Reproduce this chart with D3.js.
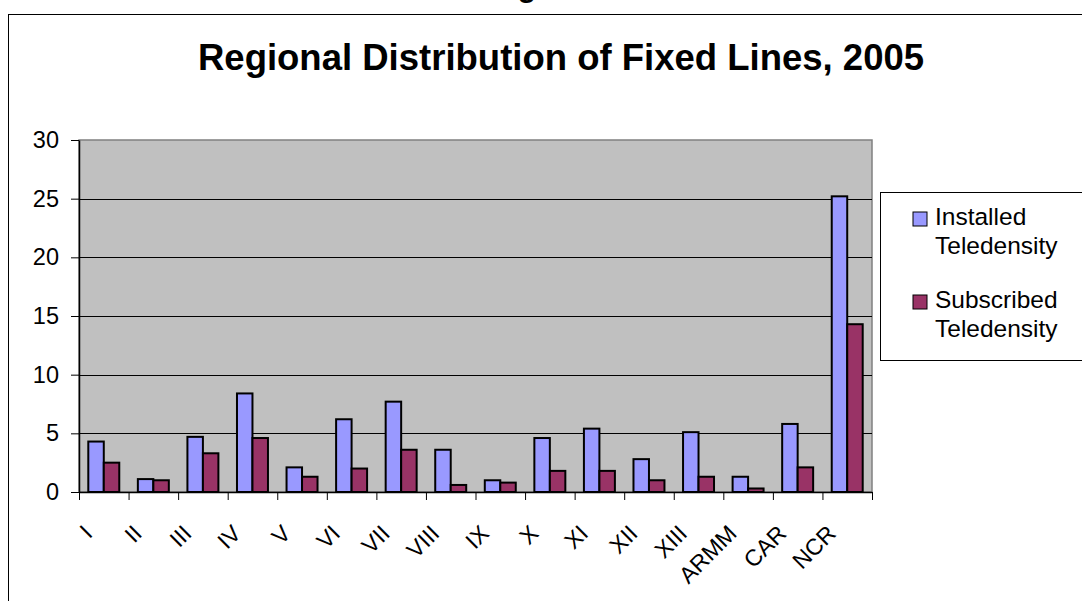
<!DOCTYPE html>
<html>
<head>
<meta charset="utf-8">
<script src="https://cdn.jsdelivr.net/npm/d3@7"></script>
<style>
  body { margin: 0; background: #fff; }
  text { font-family: "Liberation Sans", Arial, sans-serif; }
</style>
</head>
<body>
<svg id="chart" width="1082" height="601"></svg>
<script>
// regions + the two teledensity series
const regions = ["I", "II", "III", "IV", "V", "VI", "VII", "VIII", "IX", "X", "XI", "XII", "XIII", "ARMM", "CAR", "NCR"];
const installed = [4.3, 1.1, 4.7, 8.4, 2.1, 6.2, 7.7, 3.6, 1.0, 4.6, 5.4, 2.8, 5.1, 1.3, 5.8, 25.2];
const subscribed = [2.5, 1.0, 3.3, 4.6, 1.3, 2.0, 3.6, 0.6, 0.8, 1.8, 1.8, 1.0, 1.3, 0.3, 2.1, 14.3];
const seriesNames = ["Installed Teledensity", "Subscribed Teledensity"];
const seriesColors = ["#9999FF", "#993366"];
const yTicks = [0, 5, 10, 15, 20, 25, 30];

const svg = d3.select("#chart");
const plot = { left: 79, top: 140, right: 872, bottom: 492 };

// chart area border (runs off the right / bottom edges like the original)
svg.append("rect")
   .attr("x", 8.5).attr("y", 14.5)
   .attr("width", 1200).attr("height", 700)
   .style("fill", "none").style("stroke", "black").style("stroke-width", 1);

// clipped heading from above the chart, only its descender shows
svg.append("text")
   .attr("x", 527).attr("y", -3)
   .attr("text-anchor", "middle")
   .style("font-weight", "bold").style("font-size", "30px")
   .text("g");

svg.append("text")
   .attr("x", 561).attr("y", 70)
   .attr("text-anchor", "middle")
   .style("font-weight", "bold").style("font-size", "36.5px")
   .text("Regional Distribution of Fixed Lines, 2005");

const y = d3.scaleLinear().domain([0, 30]).range([plot.bottom, plot.top]);
const x0 = d3.scaleBand().domain(regions).range([plot.left, plot.right]).padding(0);
const x1 = d3.scaleBand().domain(seriesNames).range([0, x0.bandwidth()])
   .paddingInner(0).paddingOuter(0.6);

// plot area
svg.append("rect")
   .attr("x", plot.left).attr("y", plot.top)
   .attr("width", plot.right - plot.left).attr("height", plot.bottom - plot.top)
   .style("fill", "#C0C0C0").style("stroke", "#808080").style("stroke-width", 1.5);

// gridlines
svg.selectAll(".grid").data(yTicks.filter(d => d > 0 && d < 30))
   .enter().append("line")
   .attr("class", "grid")
   .attr("x1", plot.left).attr("x2", plot.right)
   .attr("y1", d => Math.round(y(d)) + 0.5).attr("y2", d => Math.round(y(d)) + 0.5)
   .style("stroke", "black").style("stroke-width", 1);

// bars
const rows = regions.map((r, i) => ({ region: r, values: [installed[i], subscribed[i]] }));
const groups = svg.selectAll(".region").data(rows)
   .enter().append("g")
   .attr("class", "region")
   .attr("transform", d => "translate(" + x0(d.region) + ",0)");

groups.selectAll("rect")
   .data(d => d.values.map((v, k) => ({ key: seriesNames[k], value: v, color: seriesColors[k] })))
   .enter().append("rect")
   .attr("x", d => x1(d.key))
   .attr("width", x1.bandwidth())
   .attr("y", d => y(d.value))
   .attr("height", d => y(0) - y(d.value))
   .style("fill", d => d.color)
   .style("stroke", "black").style("stroke-width", 2);

// y axis
const yAxis = svg.append("g")
   .attr("transform", "translate(" + plot.left + ",0)")
   .call(d3.axisLeft(y).tickValues(yTicks).tickSize(8).tickPadding(12).tickSizeOuter(0));
yAxis.select(".domain").style("stroke", "black").style("stroke-width", 1.5);
yAxis.selectAll("line").style("stroke", "black");
yAxis.selectAll("text")
   .style("font-family", "'Liberation Sans', Arial, sans-serif")
   .style("font-size", "23.5px").style("fill", "black");

// x axis: ticks on category boundaries
const xb = d3.scaleLinear().domain([0, regions.length]).range([plot.left, plot.right]);
const xAxis = svg.append("g")
   .attr("transform", "translate(0," + plot.bottom + ")")
   .call(d3.axisBottom(xb).tickValues(d3.range(regions.length + 1)).tickSize(8).tickFormat("").tickSizeOuter(0));
xAxis.select(".domain").style("stroke", "black").style("stroke-width", 1.5);
xAxis.selectAll("line").style("stroke", "black");

// rotated category labels
svg.selectAll(".xlab").data(regions)
   .enter().append("text")
   .attr("class", "xlab")
   .attr("text-anchor", "end")
   .style("font-size", "23px")
   .attr("transform", d => "translate(" + (x0(d) + x0.bandwidth() / 2 - 10) + ",535) rotate(-45)")
   .text(d => d);

// legend
svg.append("rect")
   .attr("x", 880.5).attr("y", 192.5)
   .attr("width", 300).attr("height", 168)
   .style("fill", "white").style("stroke", "black").style("stroke-width", 1);

const legendY = [212, 295];
seriesNames.forEach((name, i) => {
   svg.append("rect")
      .attr("x", 913).attr("y", legendY[i])
      .attr("width", 14).attr("height", 14)
      .style("fill", seriesColors[i]).style("stroke", "black").style("stroke-width", 1);
   const words = name.split(" ");
   words.forEach((w, j) => {
      svg.append("text")
         .attr("x", 935).attr("y", legendY[i] + 13 + j * 29)
         .style("font-size", "24.5px")
         .text(w);
   });
});
</script>
</body>
</html>
